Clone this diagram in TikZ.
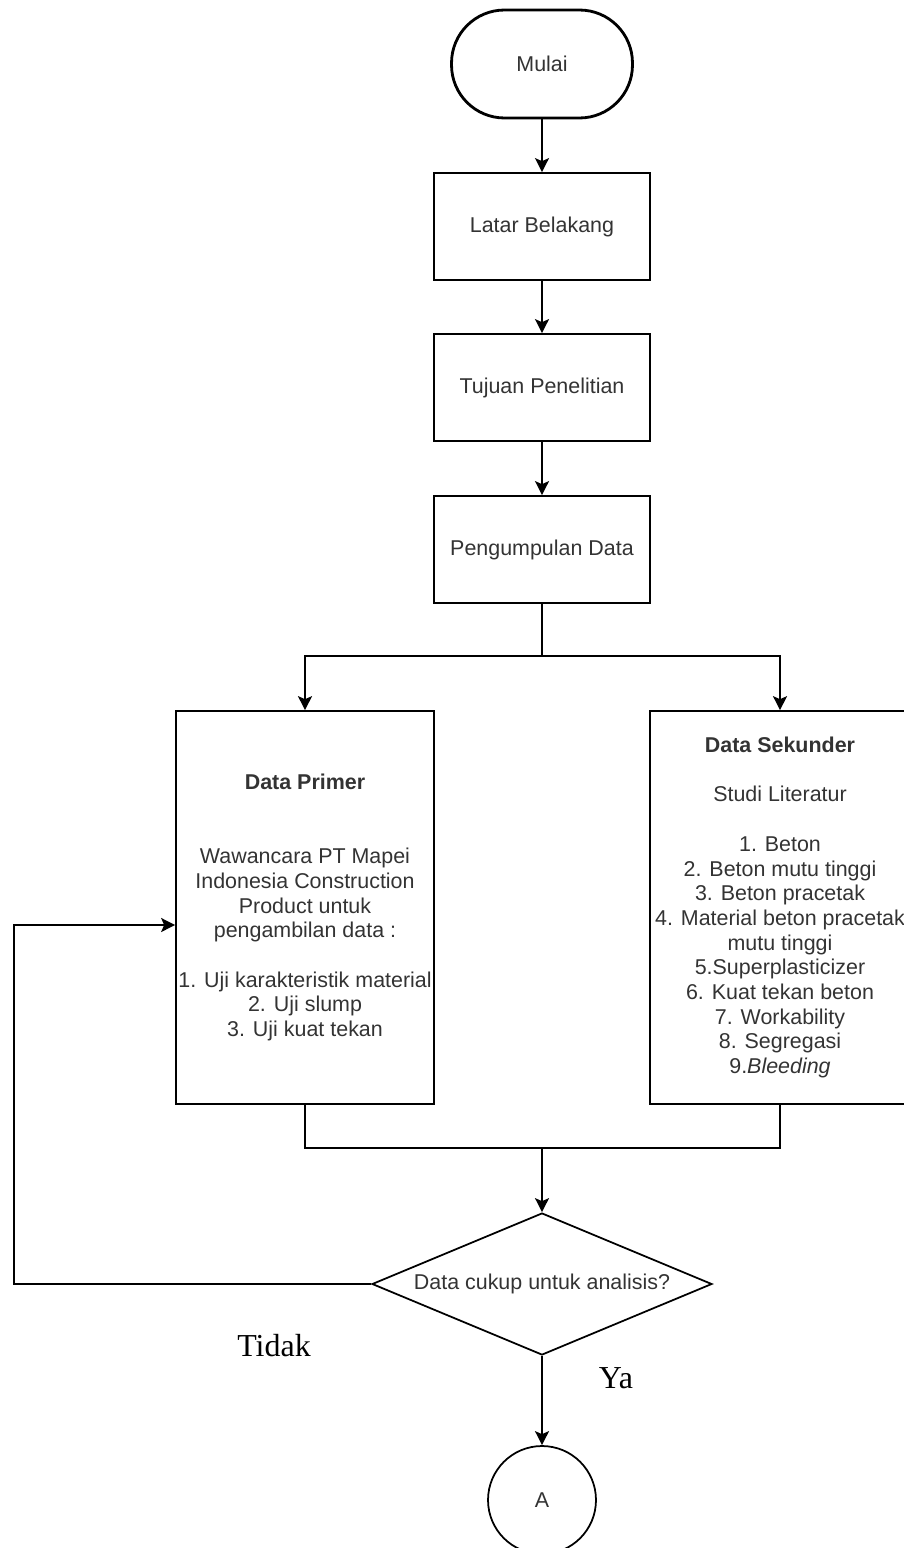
\documentclass[tikz,border=0pt]{standalone}
\usepackage{fontspec}
\setmainfont{Liberation Sans}
\newfontfamily\labelserif{Liberation Serif}
\usetikzlibrary{arrows.meta,shapes.geometric}

\begin{document}
\begin{tikzpicture}[x=0.02cm,y=-0.02cm,
  every node/.style={font=\fontsize{12.2}{14.05}\selectfont,text=black!80},
  terminal/.style={draw=black,line width=1.6pt,rounded corners=1.06cm,minimum width=3.62cm,minimum height=2.16cm,inner sep=0},
  proses/.style={draw=black,line width=1pt,minimum width=4.32cm,minimum height=2.14cm,inner sep=0},
  kotakdata/.style={draw=black,line width=1pt,minimum width=5.16cm,minimum height=7.86cm,inner sep=0,align=center},
  keputusan/.style={draw=black,line width=1pt,diamond,aspect=2.4,minimum width=6.8cm,minimum height=2.84cm,inner sep=0},
  konektor/.style={draw=black,line width=1pt,circle,minimum size=2.16cm,inner sep=0},
  jawaban/.style={font=\labelserif\fontsize{18.2}{20}\selectfont,text=black},
  garis/.style={line width=1pt,draw=black},
  panah/.style={garis,-{Stealth[length=0.28cm,width=0.28cm,inset=0.06cm]}}]
  \useasboundingbox (0,0) rectangle (903,1548);

  \node[terminal] (mulai) at (542,64) {Mulai};
  \node[proses] (latar) at (542,226.5) {Latar Belakang};
  \node[proses] (tujuan) at (542,387.5) {Tujuan Penelitian};
  \node[proses] (kumpul) at (542,549.5) {Pengumpulan Data};

  \node[kotakdata] (primer) at (305,907.5) {\textbf{Data Primer}\\~\\~\\Wawancara PT Mapei\\Indonesia Construction\\Product untuk\\pengambilan data :\\~\\1. Uji karakteristik material\\2. Uji slump\\3. Uji kuat tekan};
  \node[kotakdata,minimum width=5.2cm] (sekunder) at (780,907.5) {\textbf{Data Sekunder}\\~\\Studi Literatur\\~\\1. Beton\\2. Beton mutu tinggi\\3. Beton pracetak\\4. Material beton pracetak\\mutu tinggi\\5.Superplasticizer\\6. Kuat tekan beton\\7. Workability\\8. Segregasi\\9.\textit{Bleeding}};

  \node[keputusan] (cukup) at (542,1284) {Data cukup untuk analisis?};
  \node[konektor] (a) at (542,1500) {A};
  \node[jawaban] (tidak) at (274,1346) {Tidak};
  \node[jawaban] (ya) at (616,1378) {Ya};

  \coordinate (cabang) at (542,656);
  \coordinate (gabung) at (542,1148);
  \coordinate (balik) at (14,1284);

  \draw[panah] (mulai) -- (latar);
  \draw[panah] (latar) -- (tujuan);
  \draw[panah] (tujuan) -- (kumpul);
  \draw[garis] (kumpul) -- (cabang);
  \draw[panah] (cabang) -| (primer);
  \draw[panah] (cabang) -| (sekunder);
  \draw[garis] (primer) |- (gabung) -| (sekunder);
  \draw[panah] (gabung) -- (cukup);
  \draw[panah] (cukup.west) -- (balik) |- ([yshift=-0.35cm]primer.west);
  \draw[panah] (cukup) -- (a);
\end{tikzpicture}
\end{document}
